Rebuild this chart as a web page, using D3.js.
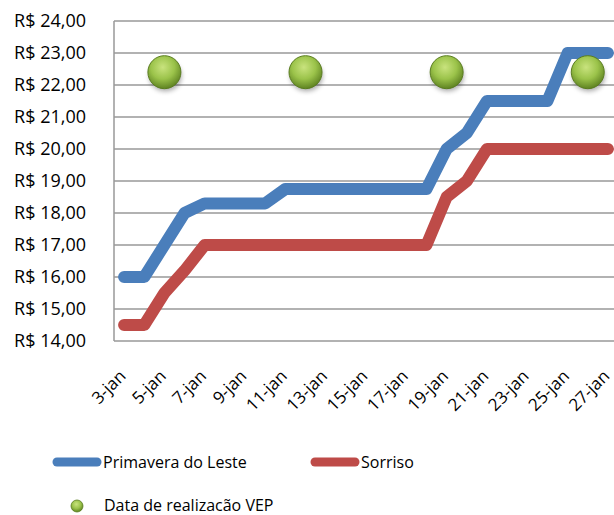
<!DOCTYPE html>
<html>
<head>
<meta charset="utf-8">
<script src="https://cdn.jsdelivr.net/npm/d3@7"></script>
<style>
  body { margin: 0; background: #fff; }
  svg { display: block; font-family: "Open Sans", "Noto Sans", sans-serif; }
</style>
</head>
<body>
<div id="chart"></div>
<script>
// dias de 3-jan a 27-jan
var dias = ["3-jan","4-jan","5-jan","6-jan","7-jan","8-jan","9-jan","10-jan","11-jan","12-jan",
  "13-jan","14-jan","15-jan","16-jan","17-jan","18-jan","19-jan","20-jan","21-jan","22-jan",
  "23-jan","24-jan","25-jan","26-jan","27-jan"];
var primavera = [16, 16, 17, 18, 18.3, 18.3, 18.3, 18.3, 18.75, 18.75, 18.75, 18.75, 18.75,
  18.75, 18.75, 18.75, 20, 20.5, 21.5, 21.5, 21.5, 21.5, 23, 23, 23];
var sorriso = [14.5, 14.5, 15.5, 16.2, 17, 17, 17, 17, 17, 17, 17, 17, 17, 17, 17, 17,
  18.5, 19, 20, 20, 20, 20, 20, 20, 20];
var vepDias = ["5-jan", "12-jan", "19-jan", "26-jan"];
var vepValor = [22.4, 22.4, 22.4, 22.4];
var yTicks = [14, 15, 16, 17, 18, 19, 20, 21, 22, 23, 24];
var xTickLabels = ["3-jan","5-jan","7-jan","9-jan","11-jan","13-jan","15-jan","17-jan",
  "19-jan","21-jan","23-jan","25-jan","27-jan"];

var width = 614, height = 515;
var svg = d3.select("#chart").append("svg")
  .attr("width", width)
  .attr("height", height);

var defs = svg.append("defs");
var grad = defs.append("radialGradient")
  .attr("id", "bola")
  .attr("cx", "45%").attr("cy", "35%").attr("r", "65%");
grad.append("stop").attr("offset", "0%").attr("stop-color", "#c9e37e");
grad.append("stop").attr("offset", "55%").attr("stop-color", "#9bc34a");
grad.append("stop").attr("offset", "100%").attr("stop-color", "#5f8322");
var sombra = defs.append("filter").attr("id", "sombra")
  .attr("x", "-50%").attr("y", "-50%").attr("width", "200%").attr("height", "200%");
sombra.append("feGaussianBlur").attr("stdDeviation", 2.5);

var x = d3.scaleBand().domain(dias).range([114, 618]).padding(0);
var y = d3.scaleLinear().domain([14, 24]).range([341, 21]);
function cx(d) { return x(d) + x.bandwidth() / 2; }

// grade
svg.append("g").selectAll("line")
  .data(yTicks)
  .enter().append("line")
  .attr("x1", 114).attr("x2", 618)
  .attr("y1", function (d) { return y(d); })
  .attr("y2", function (d) { return y(d); })
  .attr("stroke", "#989898")
  .attr("stroke-width", 1.5);

svg.append("line")
  .attr("x1", 114).attr("x2", 114)
  .attr("y1", y(24)).attr("y2", y(14))
  .attr("stroke", "#989898")
  .attr("stroke-width", 1.5);

// eixo y
var yAxis = svg.append("g")
  .attr("transform", "translate(86,0)")
  .call(d3.axisLeft(y).tickValues(yTicks).tickSize(0).tickPadding(0)
    .tickFormat(function (d) { return "R$ " + d.toFixed(2).replace(".", ","); }));
yAxis.select(".domain").remove();
yAxis.selectAll("text")
  .attr("font-family", "'Open Sans', sans-serif")
  .attr("font-size", 18)
  .attr("fill", "#000");

// eixo x
svg.append("g").selectAll("text")
  .data(xTickLabels)
  .enter().append("text")
  .attr("transform", function (d) { return "translate(" + (cx(d) - 1.5) + ",373) rotate(-45)"; })
  .attr("text-anchor", "end")
  .attr("dy", "0.35em")
  .attr("font-size", 17)
  .attr("fill", "#000")
  .text(function (d) { return d; });

// linhas
var linha = d3.line()
  .x(function (d, i) { return cx(dias[i]); })
  .y(function (d) { return y(d); });

var series = [
  { nome: "Primavera do Leste", valores: primavera, cor: "#4a7ebb" },
  { nome: "Sorriso", valores: sorriso, cor: "#be4b48" }
];

svg.append("g").selectAll("path")
  .data(series)
  .enter().append("path")
  .attr("d", function (s) { return linha(s.valores); })
  .attr("fill", "none")
  .attr("stroke", function (s) { return s.cor; })
  .attr("stroke-width", 12)
  .attr("stroke-linejoin", "round")
  .attr("stroke-linecap", "round");

// bolas VEP
var bolas = svg.append("g");
bolas.selectAll("ellipse")
  .data(vepDias)
  .enter().append("ellipse")
  .attr("cx", function (d) { return cx(d) + 1; })
  .attr("cy", function (d, i) { return y(vepValor[i]) + 4; })
  .attr("rx", 16).attr("ry", 15)
  .attr("fill", "#000")
  .attr("opacity", 0.35)
  .attr("filter", "url(#sombra)");
bolas.selectAll("circle")
  .data(vepDias)
  .enter().append("circle")
  .attr("cx", function (d) { return cx(d); })
  .attr("cy", function (d, i) { return y(vepValor[i]); })
  .attr("r", 16.5)
  .attr("fill", "url(#bola)")
  .attr("stroke", "#5a7d20")
  .attr("stroke-width", 1);

// legenda
var leg = svg.append("g");
series.forEach(function (s, i) {
  var lx = i === 0 ? 57 : 315;
  leg.append("line")
    .attr("x1", lx).attr("x2", lx + 40)
    .attr("y1", 462).attr("y2", 462)
    .attr("stroke", s.cor)
    .attr("stroke-width", 9)
    .attr("stroke-linecap", "round");
  leg.append("text")
    .attr("x", lx + 46).attr("y", 462)
    .attr("dy", "0.35em")
    .attr("font-size", 16)
    .text(s.nome);
});
leg.append("circle")
  .attr("cx", 77).attr("cy", 506).attr("r", 6)
  .attr("fill", "url(#bola)")
  .attr("stroke", "#5a7d20")
  .attr("stroke-width", 0.8);
leg.append("text")
  .attr("x", 104).attr("y", 505)
  .attr("dy", "0.35em")
  .attr("font-size", 16)
  .text("Data de realizacão VEP");
</script>
</body>
</html>
